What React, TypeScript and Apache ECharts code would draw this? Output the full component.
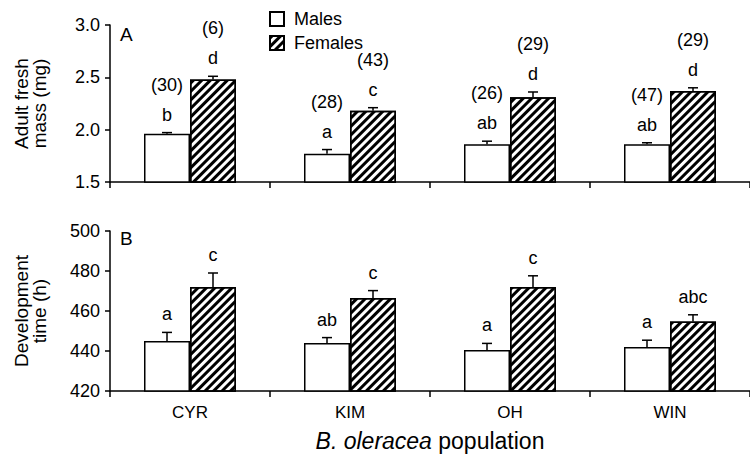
import React, { useEffect, useRef } from "react";
import * as echarts from "echarts";

const categories = ["CYR", "KIM", "OH", "WIN"];

const massMales = [1.96, 1.77, 1.86, 1.86];
const massMalesErr = [0.012, 0.04, 0.03, 0.015];
const massFemales = [2.48, 2.18, 2.31, 2.37];
const massFemalesErr = [0.03, 0.03, 0.05, 0.03];
const massMalesLetters = ["b", "a", "ab", "ab"];
const massFemalesLetters = ["d", "c", "d", "d"];
const massMalesN = ["(30)", "(28)", "(26)", "(47)"];
const massFemalesN = ["(6)", "(43)", "(29)", "(29)"];

const devMales = [445, 444, 440.5, 442];
const devMalesErr = [4.3, 2.7, 3.3, 3.4];
const devFemales = [472, 466.5, 472, 454.7];
const devFemalesErr = [7, 3.7, 5.6, 3.4];
const devMalesLetters = ["a", "ab", "a", "a"];
const devFemalesLetters = ["c", "c", "c", "abc"];

const massTicks = [1.5, 2.0, 2.5, 3.0];
const devTicks = [420, 440, 460, 480, 500];

const FONT = "'Liberation Sans', Arial, Helvetica, sans-serif";
const BAR_W = 46;

const hatch = {
  symbol: "rect",
  symbolSize: 1,
  dashArrayX: [1, 0],
  dashArrayY: [2.2, 2.6],
  rotation: -Math.PI / 4,
  color: "#000",
  backgroundColor: "#fff",
};

function errSeries(
  gi: number,
  values: number[],
  errs: number[],
  letters: string[],
  ns: string[] | null,
  side: number
) {
  return {
    type: "custom",
    xAxisIndex: gi,
    yAxisIndex: gi,
    silent: true,
    z: 5,
    clip: false,
    data: values.map((v, i) => [i, v, errs[i]]),
    renderItem: (params: any, api: any) => {
      const idx = api.value(0);
      const v = api.value(1);
      const e = api.value(2);
      const b = api.coord([idx, v]);
      const t = api.coord([idx, v + e]);
      const x = b[0] + (side * BAR_W) / 2;
      const children: any[] = [
        {
          type: "line",
          shape: { x1: x, y1: b[1], x2: x, y2: t[1] },
          style: { stroke: "#000", lineWidth: 1.5 },
        },
        {
          type: "line",
          shape: { x1: x - 5, y1: t[1], x2: x + 5, y2: t[1] },
          style: { stroke: "#000", lineWidth: 1.5 },
        },
        {
          type: "text",
          x: x,
          y: t[1] - 9,
          style: {
            text: letters[params.dataIndex],
            fill: "#000",
            font: `18px ${FONT}`,
            align: "center",
            verticalAlign: "bottom",
          },
        },
      ];
      if (ns) {
        children.push({
          type: "text",
          x: x,
          y: t[1] - 39,
          style: {
            text: ns[params.dataIndex],
            fill: "#000",
            font: `18px ${FONT}`,
            align: "center",
            verticalAlign: "bottom",
          },
        });
      }
      return { type: "group", children };
    },
  };
}

export default function App() {
  const ref = useRef<HTMLDivElement>(null);
  useEffect(() => {
    if (!ref.current) return;
    const chart = echarts.init(ref.current, undefined, { renderer: "svg" });
    const axisLine = { show: true, lineStyle: { color: "#000", width: 1.5 } };
    const xBase = (gi: number, showLabels: boolean) => ({
      type: "category",
      gridIndex: gi,
      data: categories,
      axisLine,
      axisTick: { show: true, length: 6, lineStyle: { color: "#000", width: 1.5 } },
      axisLabel: {
        show: showLabels,
        color: "#000",
        fontSize: 17,
        fontFamily: FONT,
        margin: 13,
      },
      splitLine: { show: false },
    });
    const barStyleM = { color: "#fff", borderColor: "#000", borderWidth: 1.5 };
    const barStyleF = { color: "#fff", borderColor: "#000", borderWidth: 1.5, decal: hatch };
    const yName = { fontSize: 19, color: "#000", fontFamily: FONT, lineHeight: 18 };
    const option: any = {
      animation: false,
      textStyle: { fontFamily: FONT },
      aria: { enabled: false },
      legend: {
        data: ["Males", "Females"],
        orient: "vertical",
        left: 269,
        top: 10,
        padding: 0,
        itemWidth: 14,
        itemHeight: 14,
        itemGap: 6,
        icon: "rect",
        textStyle: { fontSize: 18, color: "#000", fontFamily: FONT, padding: [0, 0, 0, 5] },
      },
      grid: [
        { left: 110, top: 25, width: 652, height: 157 },
        { left: 110, top: 231, width: 652, height: 160 },
      ],
      xAxis: [
        xBase(0, false),
        {
          ...xBase(1, true),
          name: "{i|B. oleracea} population",
          nameLocation: "middle",
          nameGap: 38,
          nameTextStyle: {
            fontSize: 23,
            color: "#000",
            fontFamily: FONT,
            rich: { i: { fontStyle: "italic", fontSize: 23, color: "#000", fontFamily: FONT } },
          },
        },
      ],
      yAxis: [
        {
          type: "value",
          gridIndex: 0,
          min: massTicks[0],
          max: massTicks[massTicks.length - 1],
          interval: 0.5,
          axisLine,
          axisTick: { show: true, length: 5, lineStyle: { color: "#000", width: 1.5 } },
          axisLabel: {
            color: "#000",
            fontSize: 18,
            fontFamily: FONT,
            margin: 10,
            formatter: (v: number) => v.toFixed(1),
          },
          splitLine: { show: false },
          name: "Adult fresh\nmass (mg)",
          nameLocation: "middle",
          nameRotate: 90,
          nameGap: 62,
          nameTextStyle: yName,
        },
        {
          type: "value",
          gridIndex: 1,
          min: devTicks[0],
          max: devTicks[devTicks.length - 1],
          interval: 20,
          axisLine,
          axisTick: { show: true, length: 5, lineStyle: { color: "#000", width: 1.5 } },
          axisLabel: { color: "#000", fontSize: 18, fontFamily: FONT, margin: 10 },
          splitLine: { show: false },
          name: "Development\ntime (h)",
          nameLocation: "middle",
          nameRotate: 90,
          nameGap: 62,
          nameTextStyle: yName,
        },
      ],
      graphic: [
        {
          type: "text",
          left: 120,
          top: 25,
          style: { text: "A", font: `19px ${FONT}`, fill: "#000" },
        },
        {
          type: "text",
          left: 120,
          top: 229,
          style: { text: "B", font: `19px ${FONT}`, fill: "#000" },
        },
      ],
      series: [
        {
          name: "Males",
          type: "bar",
          xAxisIndex: 0,
          yAxisIndex: 0,
          data: massMales,
          barWidth: BAR_W,
          barGap: "0%",
          itemStyle: barStyleM,
        },
        {
          name: "Females",
          type: "bar",
          xAxisIndex: 0,
          yAxisIndex: 0,
          data: massFemales,
          barWidth: BAR_W,
          barGap: "0%",
          itemStyle: barStyleF,
        },
        {
          name: "Males",
          type: "bar",
          xAxisIndex: 1,
          yAxisIndex: 1,
          data: devMales,
          barWidth: BAR_W,
          barGap: "0%",
          itemStyle: barStyleM,
        },
        {
          name: "Females",
          type: "bar",
          xAxisIndex: 1,
          yAxisIndex: 1,
          data: devFemales,
          barWidth: BAR_W,
          barGap: "0%",
          itemStyle: barStyleF,
        },
        errSeries(0, massMales, massMalesErr, massMalesLetters, massMalesN, -1),
        errSeries(0, massFemales, massFemalesErr, massFemalesLetters, massFemalesN, 1),
        errSeries(1, devMales, devMalesErr, devMalesLetters, null, -1),
        errSeries(1, devFemales, devFemalesErr, devFemalesLetters, null, 1),
      ],
    };
    chart.setOption(option);
    return () => chart.dispose();
  }, []);
  return (
    <div
      ref={ref}
      style={{ position: "fixed", left: 0, top: 0, width: 750, height: 457, background: "#fff" }}
    />
  );
}
